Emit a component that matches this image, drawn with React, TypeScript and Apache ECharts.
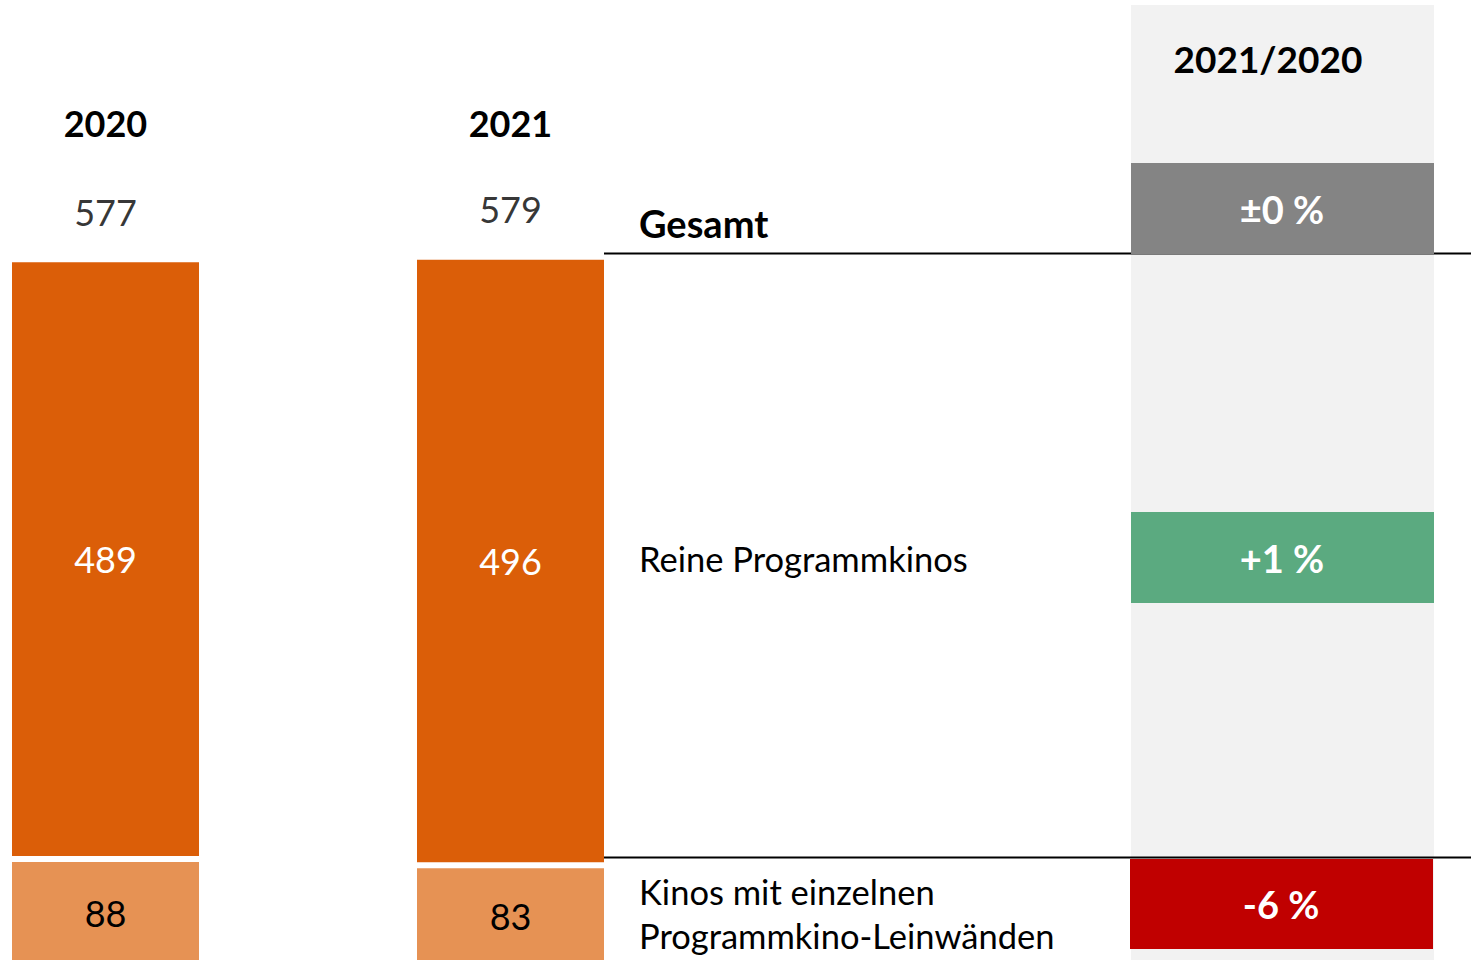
import React, { useEffect, useRef } from "react";
import * as echarts from "echarts";

const years = ["2020", "2021"];
const programmkinos = [489, 496];
const einzelneLeinwaende = [88, 83];
const totals = years.map((_, i) => programmkinos[i] + einzelneLeinwaende[i]);
const segmentLabels = ["Gesamt", "Reine Programmkinos", "Kinos mit einzelnen\nProgrammkino-Leinwänden"];
const changeHeader = "2021/2020";
const changeLabels = ["±0 %", "+1 %", "-6 %"];

const FONT = "Lato, 'Noto Sans', sans-serif";
const DARK = "#DB5E08";
const LIGHT = "#E69254";
const BOX_COLORS = ["#848484", "#5BAA80", "#C00000"];

// the chart canvas is larger than the visible page; it is offset so that the
// bars can run off the left/bottom page edges like in the original slide
const OFF_X = 100;
const CHART_W = 1471 + OFF_X;
const CHART_H = 1000;

export default function App() {
  const ref = useRef<HTMLDivElement>(null);

  useEffect(() => {
    if (!ref.current) return;
    const chart = echarts.init(ref.current, null, { renderer: "svg" });
    const X = (v: number) => v + OFF_X;

    const boxes = [
      { x: 1131, y: 163, w: 303, h: 91 },
      { x: 1131, y: 512, w: 303, h: 91 },
      { x: 1130, y: 859, w: 303, h: 90 },
    ];
    const boxTextX = [1282, 1282, 1281];

    const graphic: any[] = [
      { type: "rect", z: 0, shape: { x: X(1131), y: 5, width: 303, height: 995 }, style: { fill: "#F2F2F2" } },
      { type: "line", z: 1, shape: { x1: X(604), y1: 253.5, x2: X(1471), y2: 253.5 }, style: { stroke: "#000", lineWidth: 2 } },
      { type: "line", z: 3, shape: { x1: X(604), y1: 857.5, x2: X(1471), y2: 857.5 }, style: { stroke: "#000", lineWidth: 2 } },
      {
        type: "text", z: 3, x: X(1268), y: 58,
        style: { text: changeHeader, fill: "#000", fontSize: 37, fontWeight: "bold", fontFamily: FONT, align: "center", verticalAlign: "middle" },
      },
    ];
    boxes.forEach((b, i) => {
      graphic.push({ type: "rect", z: 2, shape: { x: X(b.x), y: b.y, width: b.w, height: b.h }, style: { fill: BOX_COLORS[i] } });
      graphic.push({
        type: "text", z: 4, x: X(boxTextX[i]), y: b.y + b.h / 2,
        style: { text: changeLabels[i], fill: "#fff", fontSize: 38, fontWeight: "bold", fontFamily: FONT, align: "center", verticalAlign: "middle" },
      });
    });
    const labelY = [223, 558, 913];
    segmentLabels.forEach((t, i) => {
      graphic.push({
        type: "text", z: 4, x: X(639), y: labelY[i],
        style: {
          text: t, fill: "#000", fontSize: i === 0 ? 38 : 34.5, fontWeight: i === 0 ? "bold" : "normal", fontFamily: FONT,
          align: "left", verticalAlign: "middle", lineHeight: 44,
        },
      });
    });

    chart.setOption({
      animation: false,
      backgroundColor: "#fff",
      grid: { left: X(-97), width: 810, top: 231, bottom: CHART_H - 967 },
      xAxis: {
        type: "category",
        data: years,
        position: "top",
        axisLine: { show: false },
        axisTick: { show: false },
        axisLabel: { margin: 90, fontSize: 36, fontWeight: "bold", color: "#000", fontFamily: FONT },
      },
      yAxis: { type: "value", min: 0, max: 600, show: false, splitLine: { show: false } },
      series: [
        {
          type: "bar",
          stack: "k",
          barWidth: 193,
          data: einzelneLeinwaende,
          itemStyle: { color: LIGHT, borderColor: "#fff", borderWidth: 3 },
          label: { show: true, position: "inside", color: "#000", fontSize: 36, fontFamily: FONT },
        },
        {
          type: "bar",
          stack: "k",
          barWidth: 193,
          data: programmkinos,
          itemStyle: { color: DARK, borderColor: "#fff", borderWidth: 3 },
          label: { show: true, position: "inside", color: "#fff", fontSize: 36, fontFamily: FONT },
        },
        {
          type: "scatter",
          data: totals,
          symbolSize: 1,
          itemStyle: { color: "rgba(0,0,0,0)" },
          label: { show: true, position: "top", distance: 29, color: "#000", fontSize: 36, fontFamily: FONT },
          silent: true,
        },
      ],
      graphic,
    });

    return () => chart.dispose();
  }, []);

  return (
    <div style={{ position: "absolute", left: 0, top: 0, width: 1471, height: 960, overflow: "hidden", background: "#fff" }}>
      <div ref={ref} style={{ position: "absolute", left: -OFF_X, top: 0, width: CHART_W, height: CHART_H }} />
    </div>
  );
}
